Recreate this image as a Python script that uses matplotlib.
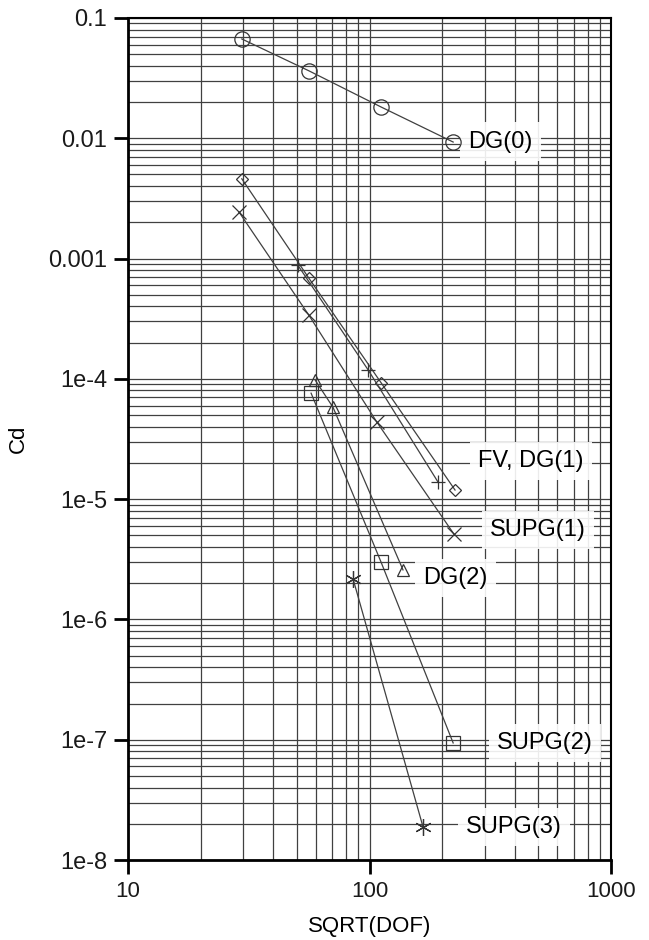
import numpy as np
from matplotlib import pyplot as plt
from matplotlib.ticker import FixedLocator, FixedFormatter, NullFormatter

plt.rcParams['font.family'] = ['Liberation Sans', 'DejaVu Sans']

# drag coefficient error vs sqrt(DOF), one series per scheme
dg0_x = [29.6, 56.2, 111.6, 222]
dg0_y = [0.0669, 0.0363, 0.0182, 0.0093]

dg1_x = [29.6, 56.0, 112, 226]
dg1_y = [4.6e-3, 6.9e-4, 9.2e-5, 1.19e-5]

fv_x = [50.5, 98.6, 192]
fv_y = [8.8e-4, 1.19e-4, 1.39e-5]

supg1_x = [28.8, 56.0, 107, 224]
supg1_y = [2.44e-3, 3.4e-4, 4.4e-5, 5.1e-6]

dg2_x = [59.5, 70.6, 137.6]
dg2_y = [9.8e-5, 5.8e-5, 2.58e-6]

supg2_x = [57.3, 111.6, 222]
supg2_y = [7.6e-5, 3.0e-6, 9.4e-8]

supg3_x = [85.5, 166.6]
supg3_y = [2.17e-6, 1.88e-8]

ytick_vals = [0.1, 0.01, 0.001, 1e-4, 1e-5, 1e-6, 1e-7, 1e-8]
ytick_text = ['0.1', '0.01', '0.001', '1e-4', '1e-5', '1e-6', '1e-7', '1e-8']
xtick_vals = [10, 100, 1000]
xtick_text = ['10', '100', '1000']

labels = ['DG(0)', 'FV, DG(1)', 'SUPG(1)', 'DG(2)', 'SUPG(2)', 'SUPG(3)']
label_pos = [(0.704, 0.853), (0.725, 0.474), (0.749, 0.392),
             (0.611, 0.335), (0.764, 0.139), (0.700, 0.039)]

fig = plt.figure(figsize=(6.49, 9.4), dpi=100)
ax = fig.add_axes([0.1972, 0.0851, 0.7443, 0.8958])
ax.set_xscale('log')
ax.set_yscale('log')
ax.set_xlim(10, 1000)
ax.set_ylim(1e-8, 0.1)

ax.set_axisbelow(True)
ax.grid(which='both', color='0.25', lw=0.9)

lc = '0.25'
kw = dict(color=lc, lw=0.9, mfc='none', mec='0.2', zorder=4)
ax.plot(dg0_x, dg0_y, marker='o', ms=11, mew=0.9, **kw)
ax.plot(dg1_x, dg1_y, marker='D', ms=6, mew=0.9, **kw)
ax.plot(fv_x, fv_y, marker='+', ms=10, mew=0.9, **kw)
ax.plot(supg1_x, supg1_y, marker='x', ms=10, mew=0.9, **kw)
ax.plot(dg2_x, dg2_y, marker='^', ms=9, mew=0.9, **kw)
ax.plot(supg2_x, supg2_y, marker='s', ms=10, mew=0.9, **kw)
ax.plot(supg3_x, supg3_y, marker=(6, 2, 0), ms=12, mew=0.9, **kw)

for txt, (px, py) in zip(labels, label_pos):
    ax.text(px, py, txt, transform=ax.transAxes, fontsize=17, va='center',
            ha='left', zorder=3,
            bbox=dict(facecolor='white', edgecolor='none', alpha=0.9, pad=6))

ax.yaxis.set_major_locator(FixedLocator(ytick_vals))
ax.yaxis.set_major_formatter(FixedFormatter(ytick_text))
ax.xaxis.set_major_locator(FixedLocator(xtick_vals))
ax.xaxis.set_major_formatter(FixedFormatter(xtick_text))
ax.yaxis.set_minor_formatter(NullFormatter())
ax.xaxis.set_minor_formatter(NullFormatter())
ax.tick_params(which='major', length=10, width=2, pad=5, labelcolor='0.1')
ax.tick_params(axis='y', labelsize=17)
ax.tick_params(axis='x', labelsize=16)
ax.tick_params(which='minor', length=0)

for s in ['left', 'bottom']:
    ax.spines[s].set_linewidth(2)
for s in ['top', 'right']:
    ax.spines[s].set_linewidth(1.5)

ax.set_xlabel('SQRT(DOF)', fontsize=16, labelpad=10)
ax.set_ylabel('Cd', fontsize=16, labelpad=14)

plt.savefig('out.png', dpi=100)
